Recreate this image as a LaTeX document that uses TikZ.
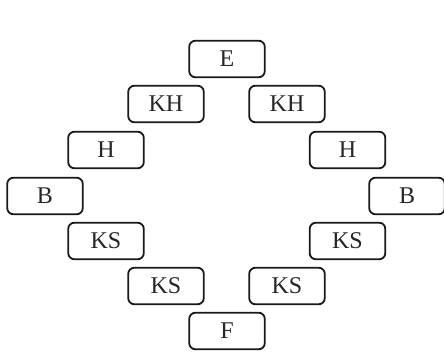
\documentclass[tikz,border=0pt]{standalone}
\usepackage{fontspec}
\setmainfont{Liberation Serif}
\tikzset{
  cell/.style={draw=black!90, line width=1.8pt, rounded corners=6pt,
    minimum width=75.5pt, minimum height=36.5pt, inner sep=0pt,
    font=\fontsize{24}{26}\selectfont, text=black!85}
}
\begin{document}
\begin{tikzpicture}[x=1pt,y=-1pt]
\useasboundingbox (0,0) rectangle (444,352);
\node[cell] (e)   at (227,59)  {E};
\node[cell] (khl) at (166,104) {KH};
\node[cell] (khr) at (287,104) {KH};
\node[cell] (hl)  at (106,150) {H};
\node[cell] (hr)  at (347.5,150) {H};
\node[cell] (bl)  at (45,196)  {B};
\node[cell] (br)  at (407,196) {B};
\node[cell] (ksl1) at (106,241) {KS};
\node[cell] (ksr1) at (347.5,241) {KS};
\node[cell] (ksl2) at (166,286) {KS};
\node[cell] (ksr2) at (287,286) {KS};
\node[cell] (f)   at (227,331) {F};
\end{tikzpicture}
\end{document}
